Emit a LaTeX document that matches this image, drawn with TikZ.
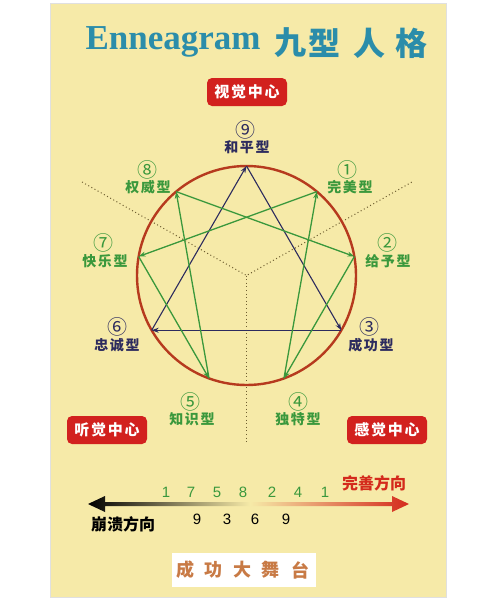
\documentclass[tikz,border=0pt]{standalone}
\usepackage{fontspec}
\setmainfont{Liberation Sans}
\newfontfamily\cjk{Noto Sans CJK SC}
\newfontfamily\cjkwide[LetterSpace=12]{Noto Sans CJK SC}
\newfontfamily\titlefont{Liberation Serif}
\usetikzlibrary{calc, arrows.meta}

\definecolor{paper}{HTML}{F6EAA8}
\definecolor{ringred}{HTML}{B63A1E}
\definecolor{typegreen}{HTML}{3A983C}
\definecolor{typenavy}{HTML}{2C2B5E}
\definecolor{titleteal}{HTML}{2B8DAA}
\definecolor{boxred}{HTML}{D2211E}
\definecolor{stagebrown}{HTML}{C87A45}
\definecolor{arrowred}{HTML}{D42A1C}
\definecolor{dotbrown}{HTML}{6E5E30}

\tikzset{
    centrebox/.style={fill=boxred, rounded corners=5pt, text=white, inner sep=0pt,
        minimum width=80pt, minimum height=28pt, font=\cjkwide\bfseries\fontsize{15}{15}\selectfont},
    numtag/.style={inner sep=0pt, font=\cjk\fontsize{20}{20}\selectfont},
    typename/.style={inner sep=0pt, font=\cjkwide\bfseries\fontsize{14}{14}\selectfont},
    greenline/.style={typegreen, line width=1.3pt, -{Stealth[length=7pt,width=5pt]}},
    navyline/.style={typenavy, line width=1.1pt, -{Stealth[length=7pt,width=5pt]}},
    seqnum/.style={inner sep=0pt, font=\fontsize{15}{15}\selectfont}
}

\begin{document}
\begin{tikzpicture}[x=1pt, y=-1pt]
    \useasboundingbox (0,0) rectangle (485,600);
    \fill[white] (0,0) rectangle (485,600);
    \fill[paper] (50,3) rectangle (446,597);
    \draw[black!12] (50,3) rectangle (446,597);

    % title
    \node[text=titleteal, inner sep=0pt] (title) at (173,42)
        {\titlefont\bfseries\fontsize{35}{35}\selectfont Enneagram};
    \foreach \x/\c in {290/九, 324/型, 369/人, 411/格}
        \node[text=titleteal, inner sep=0pt, font=\cjk\bfseries\fontsize{32}{32}\selectfont] at (\x,43) {\c};

    \coordinate (C) at (246.5,275.5);
    \foreach \k in {1,...,9}
        \coordinate (P\k) at ($(C)+({40*\k-90}:109.5)$);

    % centre lines
    \draw[dotbrown, line width=1pt, dash pattern=on 1pt off 2.6pt] (82,182) -- (C) -- (412,182);
    \draw[dotbrown, line width=1pt, dash pattern=on 1pt off 2.6pt] (C) -- (246.5,443);

    \draw[ringred, line width=2.4pt] (C) circle[radius=109.5pt];

    \draw[navyline] (P9) -- (P3);
    \draw[navyline] (P3) -- (P6);
    \draw[navyline] (P6) -- (P9);

    \draw[greenline] (P1) -- (P7);
    \draw[greenline] (P7) -- (P5);
    \draw[greenline] (P5) -- (P8);
    \draw[greenline] (P8) -- (P2);
    \draw[greenline] (P2) -- (P4);
    \draw[greenline] (P4) -- (P1);

    % centres
    \node[centrebox] (see) at (247,92) {视觉中心};
    \node[centrebox] (hear) at (107,430) {听觉中心};
    \node[centrebox] (feel) at (387,430) {感觉中心};

    % types
    \node[numtag, text=typenavy] (n9) at (245,130) {⑨};
    \node[typename, text=typenavy] (t9) at (247,147) {和平型};
    \node[numtag, text=typegreen] (n1) at (347,170) {①};
    \node[typename, text=typegreen] (t1) at (350,187) {完美型};
    \node[numtag, text=typegreen] (n2) at (387,243) {②};
    \node[typename, text=typegreen] (t2) at (388,261) {给予型};
    \node[numtag, text=typenavy] (n3) at (369,327) {③};
    \node[typename, text=typenavy] (t3) at (371,345) {成功型};
    \node[numtag, text=typegreen] (n4) at (298,402) {④};
    \node[typename, text=typegreen] (t4) at (298,419) {独特型};
    \node[numtag, text=typegreen] (n5) at (190,402) {⑤};
    \node[typename, text=typegreen] (t5) at (192,419) {知识型};
    \node[numtag, text=typenavy] (n6) at (117,327) {⑥};
    \node[typename, text=typenavy] (t6) at (117,345) {忠诚型};
    \node[numtag, text=typegreen] (n7) at (103,243) {⑦};
    \node[typename, text=typegreen] (t7) at (105,261) {快乐型};
    \node[numtag, text=typegreen] (n8) at (147,170) {⑧};
    \node[typename, text=typegreen] (t8) at (148,187) {权威型};

    % directions
    \shade[left color=black, middle color=black!75!paper, right color=paper]
        (88,504) -- (105,496) -- (105,502) -- (250,502) -- (250,506) -- (105,506) -- (105,512) -- cycle;
    \shade[left color=paper, middle color=orange!55!paper, right color=arrowred]
        (409,504) -- (392,496) -- (392,502) -- (250,502) -- (250,506) -- (392,506) -- (392,512) -- cycle;

    \foreach \x/\n in {166/1, 191/7, 217/5, 243/8, 272/2, 298/4, 325/1}
        \node[seqnum, text=typegreen] at (\x,492) {\n};
    \foreach \x/\n in {197/9, 227/3, 255/6, 286/9}
        \node[seqnum, text=black] at (\x,519) {\n};

    \node[text=arrowred, inner sep=0pt, font=\cjk\bfseries\fontsize{16}{16}\selectfont] (better) at (374,483) {完善方向};
    \node[text=black, inner sep=0pt, font=\cjk\bfseries\fontsize{16}{16}\selectfont] (worse) at (123,524) {崩溃方向};

    % stage
    \fill[white] (172,553) rectangle (316,587);
    \foreach \x/\c in {185/成, 213/功, 242/大, 270/舞, 300/台}
        \node[text=stagebrown, inner sep=0pt, font=\cjk\bfseries\fontsize{18}{18}\selectfont] at (\x,570) {\c};
\end{tikzpicture}
\end{document}
